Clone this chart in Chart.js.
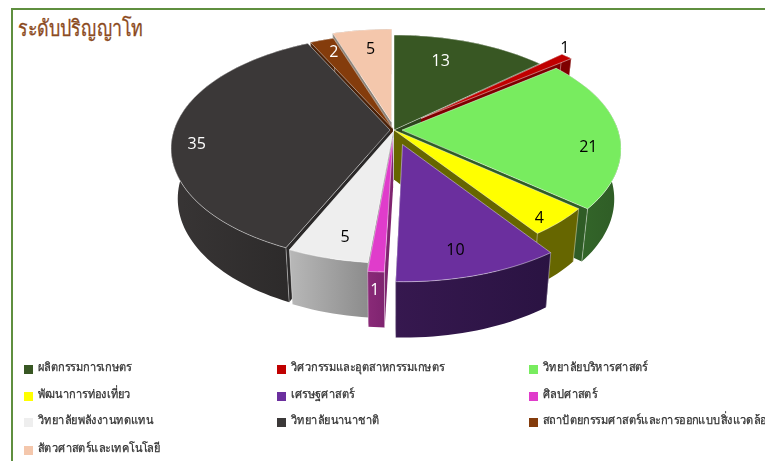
<!DOCTYPE html>
<html>
<head>
<meta charset="utf-8">
<script src="https://cdn.jsdelivr.net/npm/chart.js@4"></script>
<style>
    html, body { margin: 0; padding: 0; background: #fff; width: 765px; height: 461px; overflow: hidden; }
    #frame { position: absolute; left: 11px; top: 8px; width: 760px; height: 460px; border-left: 2px solid #5f8f3f; border-top: 2px solid #5f8f3f; }
    #title { position: absolute; left: 18px; top: 11px; font: 22px "Noto Sans", "Open Sans", sans-serif; color: #8b4a20; -webkit-text-stroke: 0.3px #8b4a20; white-space: nowrap; transform: scaleX(0.81); transform-origin: left top; }
    #chartBox { position: absolute; left: 0; top: 0; width: 765px; height: 461px; }
    #legend { position: absolute; left: 0; top: 0; width: 765px; height: 461px; overflow: hidden; font: 12px "Noto Sans", "Open Sans", sans-serif; color: #303030; -webkit-text-stroke: 0.25px #303030; }
    .item { position: absolute; white-space: nowrap; line-height: 16px; }
    .item i { position: absolute; left: 0; top: 6px; width: 9px; height: 9px; }
    .item span { position: absolute; left: 14px; top: 0; transform: scaleX(0.92); transform-origin: left top; }
</style>
</head>
<body>
<div id="frame"></div>
<div id="title">ระดับปริญญาโท</div>
<div id="chartBox"><canvas id="degreePie" width="765" height="461"></canvas></div>
<div id="legend"></div>
<script>
// values, clockwise from 12 o'clock
const faculties = [
    'ผลิตกรรมการเกษตร', 'วิศวกรรมและอุตสาหกรรมเกษตร', 'วิทยาลัยบริหารศาสตร์',
    'พัฒนาการท่องเที่ยว', 'เศรษฐศาสตร์', 'ศิลปศาสตร์',
    'วิทยาลัยพลังงานทดแทน', 'วิทยาลัยนานาชาติ', 'สถาปัตยกรรมศาสตร์และการออกแบบสิ่งแวดล้อม',
    'สัตวศาสตร์และเทคโนโลยี'
];
const students = [13, 1, 21, 4, 10, 1, 5, 35, 2, 5];

const topColors = ['#385723', '#c00000', '#78ec5f', '#ffff00', '#6b2f9e', '#e03ccb', '#eeeeee', '#3b3838', '#843c0c', '#f4c7ac'];
const wallLeft = ['#2c451c', '#7f0000', '#356b2b', '#666600', '#36184f', '#8a2a78', '#b8b8b8', '#383535', '#4c2208', '#8c8379'];
const wallRight = ['#2c451c', '#7f0000', '#2f5c26', '#666600', '#2a1342', '#7f2470', '#8c8c8c', '#2b2929', '#4c2208', '#8c8379'];
const labelColors = ['#fff', '#000', '#000', '#000', '#000', '#fff', '#000', '#fff', '#fff', '#000'];

// how far each slice is pulled out of the pie
const explode = [0, 36, 8, 0, 29, 15, 3, 4, 3, 16];
const labelNudge = [[-13, -1], [32, -22], [24, 16], [25, 22], [-2, 13], [-6, 57], [-1, 15], [-31, 13], [-4, -8], [2, -1]];

// the tilted view
const view = { liftY: 100, squash: 0.51, persp: 0.16, depth: 51, shrink: 0.03 };

function projector(arc) {
    const R = arc.outerRadius;
    return (wx, wy, z) => {
        const s = 1 / (1 - view.persp * wy / R) * (1 - view.shrink * z);
        return [arc.x + wx * s, arc.y - view.liftY + wy * view.squash * s + z * view.depth * s];
    };
}

function polygon(ctx, pts) {
    ctx.beginPath();
    pts.forEach((p, i) => i ? ctx.lineTo(p[0], p[1]) : ctx.moveTo(p[0], p[1]));
    ctx.closePath();
}

// Chart.js angles start at -PI/2 so cos/sin already give x and y on the flat pie
function slicePoints(arc, off, z, project) {
    const mid = (arc.startAngle + arc.endAngle) / 2;
    const ox = Math.cos(mid) * off, oy = Math.sin(mid) * off;
    const rim = [];
    const steps = Math.max(2, Math.ceil((arc.endAngle - arc.startAngle) / 0.03));
    for (let i = 0; i <= steps; i++) {
        const a = arc.startAngle + (arc.endAngle - arc.startAngle) * i / steps;
        rim.push(project(ox + Math.cos(a) * arc.outerRadius, oy + Math.sin(a) * arc.outerRadius, z));
    }
    return { tip: project(ox, oy, z), rim: rim };
}

const tiltedPie = {
    id: 'tiltedPie',
    beforeDatasetDraw(chart) {
        const ctx = chart.ctx;
        const arcs = chart.getDatasetMeta(0).data;
        const order = arcs.map((a, i) => i).sort((i, j) =>
            Math.sin((arcs[i].startAngle + arcs[i].endAngle) / 2) - Math.sin((arcs[j].startAngle + arcs[j].endAngle) / 2));

        order.forEach(i => {
            const arc = arcs[i];
            const project = projector(arc);
            const up = slicePoints(arc, explode[i], 0, project);
            const down = slicePoints(arc, explode[i], 1, project);
            const last = up.rim.length - 1;

            ctx.fillStyle = wallRight[i];
            polygon(ctx, [up.tip, up.rim[0], down.rim[0], down.tip]);
            ctx.fill();
            polygon(ctx, [up.tip, up.rim[last], down.rim[last], down.tip]);
            ctx.fill();

            const xs = up.rim.map(p => p[0]);
            const grad = ctx.createLinearGradient(Math.min(...xs), 0, Math.max(...xs), 0);
            grad.addColorStop(0, wallLeft[i]);
            grad.addColorStop(1, wallRight[i]);
            ctx.fillStyle = grad;
            polygon(ctx, up.rim.concat(down.rim.slice().reverse()));
            ctx.fill();

            // pale line down the two corners
            ctx.strokeStyle = 'rgba(255,255,255,0.4)';
            ctx.lineWidth = 1;
            [0, last].forEach(n => {
                ctx.beginPath();
                ctx.moveTo(up.rim[n][0], up.rim[n][1]);
                ctx.lineTo(down.rim[n][0], down.rim[n][1]);
                ctx.stroke();
            });

            ctx.fillStyle = topColors[i];
            polygon(ctx, [up.tip].concat(up.rim));
            ctx.fill();
            ctx.strokeStyle = 'rgba(255,255,255,0.45)';
            ctx.stroke();
        });
        return false;
    },
    afterDatasetsDraw(chart) {
        const ctx = chart.ctx;
        chart.getDatasetMeta(0).data.forEach((arc, i) => {
            const project = projector(arc);
            const mid = (arc.startAngle + arc.endAngle) / 2;
            const r = explode[i] + arc.outerRadius * 0.75;
            const p = project(Math.cos(mid) * r, Math.sin(mid) * r, 0);
            ctx.font = '16px "Open Sans", sans-serif';
            ctx.textAlign = 'center';
            ctx.textBaseline = 'middle';
            ctx.fillStyle = labelColors[i];
            ctx.fillText(String(students[i]), p[0] + labelNudge[i][0], p[1] + labelNudge[i][1]);
        });
    }
};

new Chart(document.getElementById('degreePie').getContext('2d'), {
    type: 'pie',
    data: {
        labels: faculties,
        datasets: [{ data: students, backgroundColor: topColors, borderWidth: 0 }],
    },
    options: {
        responsive: false,
        animation: false,
        layout: { padding: { left: 178, right: 155, top: 14, bottom: 15 } },
        plugins: { legend: { display: false }, tooltip: { enabled: false } },
    },
    plugins: [tiltedPie],
});

// legend in three columns, as html because the built-in one does not keep columns
const legendBox = document.getElementById('legend');
const columnX = [24, 277, 529];
const rowY = [359, 386, 412, 440];
faculties.forEach((name, i) => {
    const item = document.createElement('div');
    item.className = 'item';
    item.style.left = columnX[i % 3] + 'px';
    item.style.top = rowY[Math.floor(i / 3)] + 'px';
    item.innerHTML = '<i style="background:' + topColors[i] + '"></i><span>' + name + '</span>';
    legendBox.appendChild(item);
});
</script>
</body>
</html>
